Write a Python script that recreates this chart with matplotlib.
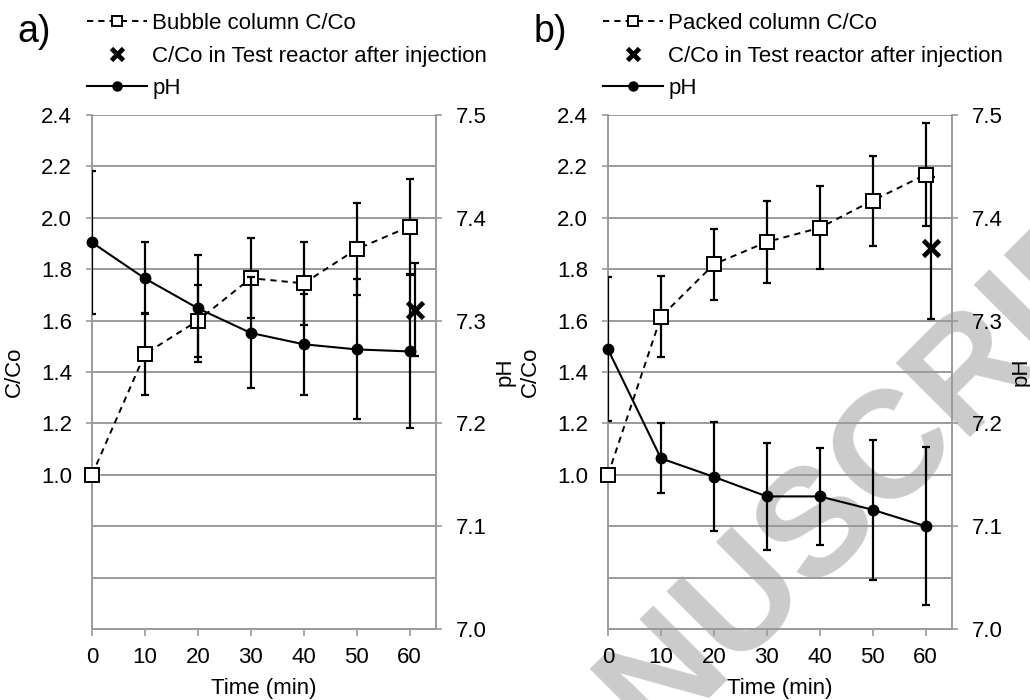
import numpy as np
import matplotlib
matplotlib.use("Agg")
import matplotlib.pyplot as plt
from matplotlib.ticker import FixedLocator, FormatStrFormatter

plt.rcParams['font.family'] = ['Liberation Sans', 'DejaVu Sans']
plt.rcParams['font.size'] = 16

GRID = '#9a9a9a'

# ---- data ----
time = [0, 10, 20, 30, 40, 50, 60]

# a) bubble column
bubble_c = [1.00, 1.47, 1.60, 1.765, 1.745, 1.878, 1.966]
bubble_c_err = [0, 0.16, 0.14, 0.155, 0.162, 0.178, 0.185]
bubble_ph = [7.376, 7.341, 7.312, 7.288, 7.277, 7.272, 7.270]
bubble_ph_err = [0.070, 0.035, 0.052, 0.054, 0.049, 0.068, 0.074]
bubble_inj_t = [61]
bubble_inj_c = [1.643]
bubble_inj_err = [0.18]

# b) packed column
packed_c = [1.00, 1.615, 1.819, 1.906, 1.961, 2.067, 2.168]
packed_c_err = [0, 0.157, 0.138, 0.158, 0.162, 0.175, 0.20]
packed_ph = [7.272, 7.166, 7.148, 7.129, 7.129, 7.116, 7.100]
packed_ph_err = [0.070, 0.034, 0.053, 0.052, 0.047, 0.068, 0.077]
packed_inj_t = [61]
packed_inj_c = [1.883]
packed_inj_err = [0.277]

c_ticks = [1.0, 1.2, 1.4, 1.6, 1.8, 2.0, 2.2, 2.4]
c_minor = [0.6, 0.8]
ph_ticks = [7.0, 7.1, 7.2, 7.3, 7.4, 7.5]

fig = plt.figure(figsize=(10.3, 7), dpi=100)

# watermark of the accepted manuscript, behind the axes
fig.text(0.4725, -0.301, 'MANUSCRIPT', rotation=45, rotation_mode='anchor',
         ha='left', va='baseline', fontsize=110, fontweight='bold',
         color='#cbcbcb', zorder=-5)

EB = dict(fmt='none', ecolor='k', elinewidth=1.6, capsize=3.2, capthick=1.6,
          zorder=3)


def panel(left, tag, col_name, c, c_err, ph, ph_err, inj_t, inj_c, inj_err):
    ax = fig.add_axes([left, 0.1014, 0.334, 0.7343])
    ax.set_facecolor('none')
    ax2 = ax.twinx()

    ax.errorbar(time, c, yerr=c_err, **EB)
    h1, = ax.plot(time, c, ls=(0, (3.2, 2.6)), color='k', lw=1.4, marker='s',
                  ms=9.5, mfc='white', mec='k', mew=1.4, clip_on=False,
                  zorder=4, label=col_name)
    ax.errorbar(inj_t, inj_c, yerr=inj_err, **EB)
    h2, = ax.plot(inj_t, inj_c, ls='none', marker='x', ms=12, mew=3.4,
                  color='k', zorder=4, label='C/Co in Test reactor after injection')

    ax2.errorbar(time, ph, yerr=ph_err, **EB)
    h3, = ax2.plot(time, ph, ls='-', color='k', lw=1.5, marker='o', ms=7.5,
                   clip_on=False, zorder=4, label='pH')

    ax.set_xlim(0, 65)
    ax.set_ylim(0.4, 2.4)
    ax2.set_ylim(7.0, 7.5)
    ax.set_xticks(time)
    ax.yaxis.set_major_locator(FixedLocator(c_ticks))
    ax.yaxis.set_minor_locator(FixedLocator(c_minor))
    ax.yaxis.set_major_formatter(FormatStrFormatter('%.1f'))
    ax2.yaxis.set_major_locator(FixedLocator(ph_ticks))
    ax2.yaxis.set_major_formatter(FormatStrFormatter('%.1f'))

    ax.grid(True, axis='y', which='both', color=GRID, lw=1.4)
    ax.set_axisbelow(True)

    for a in (ax, ax2):
        a.spines['top'].set_visible(False)
    ax.spines['right'].set_visible(False)
    ax2.spines['left'].set_visible(False)
    ax2.spines['bottom'].set_visible(False)
    for s in ('left', 'bottom'):
        ax.spines[s].set_color(GRID)
        ax.spines[s].set_linewidth(1.4)
    ax2.spines['right'].set_color(GRID)
    ax2.spines['right'].set_linewidth(1.4)

    ax.tick_params(axis='y', which='major', length=4.5, width=1.2, color=GRID,
                   pad=10, labelsize=16)
    ax.tick_params(axis='y', which='minor', length=0)
    ax.tick_params(axis='x', length=5, width=1.2, color=GRID, pad=8, labelsize=16)
    ax2.tick_params(axis='y', length=4.5, width=1.2, color=GRID, pad=10,
                    labelsize=16)

    ax.set_xlabel('Time (min)', fontsize=16)
    ax.xaxis.set_label_coords(0.5, -0.095)
    ax.set_ylabel('C/Co', fontsize=16)
    ax.yaxis.set_label_coords(-0.195, 0.5)
    ax2.set_ylabel('pH', fontsize=16)
    ax2.yaxis.set_label_coords(1.17, 0.5)

    fig.text(left - 0.072, 1 - 32 / 700, tag, fontsize=27, ha='left', va='center')

    leg = fig.legend(handles=[h1, h2, h3], loc='upper left',
                     bbox_to_anchor=(left - 0.005, 1 - 13 / 700), frameon=False,
                     borderpad=0, borderaxespad=0, handlelength=2.7,
                     handletextpad=0.25, labelspacing=0.52, fontsize=16,
                     numpoints=1)
    sizes = [7, 9, 6.5]
    for lh, s in zip(leg.legend_handles, sizes):
        lh.set_markersize(s)
    return ax, ax2


panel(0.0893, 'a)', 'Bubble column C/Co', bubble_c, bubble_c_err, bubble_ph,
      bubble_ph_err, bubble_inj_t, bubble_inj_c, bubble_inj_err)
panel(0.5903, 'b)', 'Packed column C/Co', packed_c, packed_c_err, packed_ph,
      packed_ph_err, packed_inj_t, packed_inj_c, packed_inj_err)

fig.savefig('out.png', dpi=100)
